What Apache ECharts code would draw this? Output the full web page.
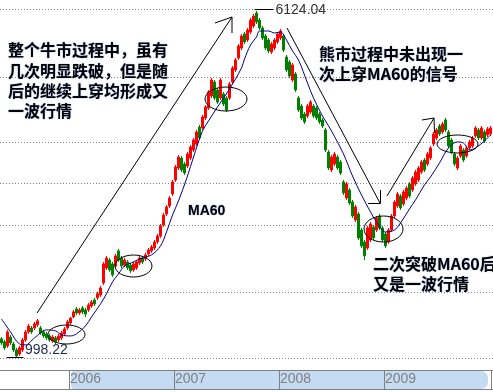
<!DOCTYPE html>
<html><head><meta charset="utf-8">
<script src="https://cdn.jsdelivr.net/npm/echarts@6/dist/echarts.min.js"></script>
<style>html,body{margin:0;padding:0;background:#fff}#c{width:493px;height:392px}</style>
</head><body><div id="c"></div>
<script>
// Candles: [open, close, low, high], one per ~1.5 weeks, grouped by year
const ohlc2005 = [
[1103,1080,1069,1114],[1086,1052,1041,1097],[1063,1144,1052,1156],[1114,1080,1069,1126],[1074,1041,1030,1086],
[1041,1009,998.22,1052],[1019,1052,1009,1063],[1041,1097,1030,1109],[1097,1144,1086,1156],[1144,1180,1132,1193],
[1168,1144,1132,1180],[1168,1193,1156,1205],[1187,1212,1174,1224],[1168,1138,1126,1180],[1144,1120,1109,1156],
[1132,1109,1097,1144],[1120,1097,1086,1132],[1091,1114,1080,1126],[1109,1086,1074,1120],[1097,1120,1086,1132],
[1109,1138,1097,1150],[1132,1162,1120,1174],[1168,1205,1156,1218]];
const ohlc2006 = [
[1199,1230,1187,1237],[1237,1270,1230,1283],[1290,1263,1250,1303],[1263,1283,1250,1297],[1297,1270,1256,1310],
[1283,1256,1237,1297],[1283,1317,1270,1331],[1310,1338,1297,1352],[1352,1324,1310,1367],[1367,1396,1352,1410],
[1388,1439,1374,1455],[1478,1632,1462,1649],[1598,1684,1582,1702],[1666,1582,1566,1684],[1632,1541,1525,1649],
[1615,1702,1598,1720],[1747,1666,1649,1765],[1684,1615,1598,1702],[1623,1666,1606,1684],[1649,1598,1582,1666],
[1623,1574,1557,1640],[1582,1632,1566,1649],[1598,1649,1582,1666],[1640,1684,1623,1702],[1684,1649,1632,1702],
[1675,1711,1657,1729],[1720,1756,1702,1774],[1747,1783,1729,1802],[1774,1831,1756,1850],[1831,1889,1812,1909],
[1889,1991,1869,2011],[2001,2108,1980,2130],[2119,2198,2097,2221],[2210,2304,2187,2328],[2352,2506,2328,2532]];
const ohlc2007 = [
[2532,2709,2506,2738],[2695,2854,2667,2885],[2840,2667,2639,2870],[2752,2625,2598,2781],[2723,2900,2695,2930],
[2840,3008,2810,3040],[2961,3120,2930,3153],[3055,3254,3024,3288],[3339,3153,3120,3375],[3322,3519,3288,3556],
[3500,3707,3464,3746],[3687,4010,3650,4052],[3927,4269,3886,4315],[4225,3886,3845,4269],[4052,3805,3765,4094],
[3886,4269,3845,4315],[3968,3765,3726,4010],[3886,3650,3612,3927],[3886,4181,3845,4225],[4225,4546,4181,4594],
[4499,4740,4452,4789],[4789,5099,4740,5153],[5046,5374,4994,5430],[5430,5207,5153,5487],[5262,5545,5207,5603],
[5487,5842,5430,5904],[5661,5966,5603,6029],[6060,5781,5721,6124.04],[5842,5603,5545,5904],[5603,5318,5262,5661],
[5374,5046,4994,5430],[5262,4968,4916,5318],[4942,5153,4891,5207],[5046,5262,4994,5318],[5207,5430,5153,5487]];
const ohlc2008 = [
[5318,5516,5262,5573],[5374,4994,4942,5430],[4814,4499,4452,4865],[4691,4360,4315,4740],[4269,4618,4225,4666],
[4406,4052,4010,4452],[3886,3650,3612,3927],[3726,3500,3464,3765],[3574,3428,3392,3612],[3537,3726,3500,3765],
[3612,3805,3574,3845],[3726,3537,3500,3765],[3687,3500,3464,3726],[3574,3428,3392,3612],[3464,3357,3322,3500],
[3288,2961,2930,3322],[2930,2695,2667,2961],[2667,2854,2639,2885],[2752,2900,2723,2930],[2854,2695,2667,2885],
[2781,2625,2598,2810],[2506,2365,2340,2532],[2304,2480,2280,2506],[2402,2244,2221,2428],[2256,2097,2075,2280],
[2054,2198,2033,2221],[2119,1869,1850,2142],[1949,1793,1774,1970],[1831,1702,1664,1850],[1774,1970,1756,1991],
[1850,2011,1831,2033],[1980,1869,1850,2001],[1949,2075,1929,2097],[2097,1970,1949,2119],[1970,1850,1831,1991]];
const ohlc2009 = [
[1909,1793,1774,1929],[1831,1949,1812,1970],[1949,2097,1929,2119],[2097,2256,2075,2280],[2210,2352,2187,2377],
[2328,2187,2164,2352],[2233,2377,2210,2402],[2304,2428,2280,2454],[2480,2328,2304,2506],[2402,2558,2377,2585],
[2480,2639,2454,2667],[2532,2695,2506,2723],[2639,2781,2612,2810],[2810,2667,2639,2840],[2752,2900,2723,2930],
[2840,2992,2810,3024],[3055,3220,3024,3254],[3153,3288,3120,3322],[3357,3220,3186,3392],[3254,3392,3220,3428],
[3464,3288,3254,3500],[3254,3024,2992,3288],[3120,2930,2900,3153],[2900,2752,2723,2930],[2695,2840,2667,2870],
[2870,3024,2840,3055],[2961,2810,2781,2992],[2870,2992,2840,3024],[2992,3088,2961,3120],[3024,3153,2992,3186],
[3186,3322,3153,3357],[3288,3153,3120,3322],[3153,3322,3120,3357],[3254,3104,3071,3288],[3203,3305,3170,3339],
[3220,3322,3186,3357]];
// MA60 readings: [candle index, value]
const ma60 = [[0,1224],[3,1144],[6,1074],[8,1069],[11,1109],[15,1156],[18,1150],[20,1126],[23,1120],[25,1132],
[28,1180],[30,1237],[33,1324],[35,1396],[37,1486],[39,1549],[41,1615],[44,1649],[46,1675],[50,1711],[53,1793],
[55,1929],[57,2108],[59,2268],[62,2585],[64,2854],[67,3271],[69,3446],[72,3707],[76,4073],[80,4546],[81,4765],
[83,5126],[85,5346],[86,5516],[89,5516],[91,5459],[93,5487],[95,5262],[97,4968],[99,4740],[102,4202],[104,3886],
[107,3537],[108,3446],[110,3271],[114,2900],[117,2585],[120,2340],[123,2142],[125,2033],[128,1929],[131,1949],
[133,2022],[136,2176],[138,2280],[141,2467],[143,2571],[146,2767],[149,2992],[152,3088],[154,3071],[156,2961],
[158,2992],[161,3104],[163,3203]];
const gridValues = [6188, 4337, 3088, 2492, 2001, 1410, 998];
const yearBlocks = [['2005', ohlc2005], ['2006', ohlc2006], ['2007', ohlc2007], ['2008', ohlc2008], ['2009', ohlc2009]];
const yearLabels = ['2006', '2007', '2008', '2009'];
const yMin = 998, yMax = 6188;
const note1 = ['整个牛市过程中，虽有', '几次明显跌破，但是随', '后的继续上穿均形成又', '一波行情'];
const note2 = ['熊市过程中未出现一', '次上穿MA60的信号'];
const note3 = ['二次突破MA60后', '又是一波行情'];
const maLabel = 'MA60';

const candles = [], cats = [], yearStart = {};
yearBlocks.forEach(([y, arr]) => { yearStart[y] = candles.length; arr.forEach((c, k) => { candles.push(c); cats.push(y + '-' + k); }); });

const chart = echarts.init(document.getElementById('c'));
chart.setOption({
  animation: false,
  grid: { left: 0, right: 1, top: 9, bottom: 34 },
  xAxis: { type: 'category', data: cats, boundaryGap: true, axisLine: { show: false }, axisTick: { show: false }, axisLabel: { show: false }, splitLine: { show: false } },
  yAxis: { type: 'log', min: yMin, max: yMax, axisLine: { show: false }, axisTick: { show: false }, axisLabel: { show: false }, splitLine: { show: false } },
  series: [
    { type: 'candlestick', data: candles, barWidth: 2, z: 2,
      itemStyle: { color: '#ff0000', color0: '#008000', borderColor: '#ff0000', borderColor0: '#008000', borderWidth: 1 } },
    { type: 'line', data: ma60, smooth: 0.35, symbol: 'none', z: 3, lineStyle: { color: '#000080', width: 1 } }
  ]
});

const P = (i, v) => chart.convertToPixel({ xAxisIndex: 0, yAxisIndex: 0 }, [i, v]);
const Y = v => chart.convertToPixel({ yAxisIndex: 0 }, v);
const band = P(1, 1000)[0] - P(0, 1000)[0];
const W = 493;
const g = [];
// dotted grid lines
gridValues.forEach(v => {
  const y = Math.round(Y(v)) + 0.5;
  g.push({ type: 'line', z: 0, shape: { x1: 0, y1: y, x2: W, y2: y }, style: { stroke: '#888', lineWidth: 1, lineDash: [1, 2] } });
});
// peak & trough labels
let hi = 0, lo = 0;
candles.forEach((c, i) => { if (c[3] > candles[hi][3]) hi = i; if (c[2] < candles[lo][2]) lo = i; });
const ph = P(hi, candles[hi][3]), pl = P(lo, candles[lo][2]);
g.push({ type: 'line', z: 10, shape: { x1: ph[0] - 2, y1: Math.round(ph[1]) - 1.5, x2: ph[0] + 17, y2: Math.round(ph[1]) - 1.5 }, style: { stroke: '#000', lineWidth: 1 } });
g.push({ type: 'text', z: 10, style: { text: candles[hi][3].toFixed(2), x: ph[0] + 19, y: ph[1] - 1, fill: '#333', fontSize: 14, fontFamily: 'Liberation Sans, Arial', verticalAlign: 'middle' } });
g.push({ type: 'line', z: 10, shape: { x1: pl[0] - 10, y1: Math.round(pl[1]) - 0.5, x2: pl[0] + 7, y2: Math.round(pl[1]) - 0.5 }, style: { stroke: '#000', lineWidth: 1 } });
g.push({ type: 'text', z: 10, style: { text: candles[lo][2].toFixed(2), x: pl[0] + 8.5, y: pl[1] - 8, fill: '#1c2a48', fontSize: 14, fontFamily: 'Liberation Sans, Arial', verticalAlign: 'middle' } });
// annotation texts
const cjk = { fontSize: 16, fontWeight: 'bold', fontFamily: 'Noto Sans CJK SC', fill: '#000', verticalAlign: 'middle', textShadowColor: 'rgba(0,60,200,0.45)', textShadowBlur: 1.5 };
const addLines = (lines, x, ys) => lines.forEach((t, k) => g.push({ type: 'text', z: 12, style: Object.assign({ text: t, x: x, y: ys[k] }, cjk) }));
addLines(note1, 8, [50, 71, 91, 111]);
addLines(note2, 319, [53.5, 73.5]);
addLines(note3, 373, [264, 284]);
g.push({ type: 'text', z: 12, style: { text: maLabel, x: 188, y: 211, fontSize: 14, fontWeight: 'bold', fontFamily: 'Liberation Sans, Arial', fill: '#000', verticalAlign: 'middle', textShadowColor: 'rgba(0,60,200,0.45)', textShadowBlur: 1.5 } });
// ellipses
[[66.5, 334.5, 18.5, 9.5], [133.5, 266, 18.5, 11], [226, 99, 21, 12], [383.5, 229, 19.5, 13], [457.5, 144, 20.5, 9]].forEach(e => {
  g.push({ type: 'ellipse', z: 11, shape: { cx: e[0], cy: e[1], rx: e[2], ry: e[3] }, style: { fill: null, stroke: '#000', lineWidth: 1 } });
});
// arrows
[[[37, 313], [232, 17]], [[215, 23], [232, 17], [232, 33]],
 [[287, 28], [380, 203]], [[368, 203.5], [380.5, 203.5], [380.5, 190]],
 [[387, 196], [434, 118]], [[422, 120], [434, 118], [434.5, 133]]].forEach(pts => {
  g.push({ type: 'polyline', z: 11, shape: { points: pts }, style: { fill: null, stroke: '#000', lineWidth: 1 } });
});
// bottom year bar
const barTop = 370.5, barBot = 389.5;
const xStart = Math.round(P(yearStart['2006'], 1000)[0] - band / 2);
const xEnd = Math.round(P(candles.length - 1, 1000)[0] + band / 2);
g.push({ type: 'rect', z: 1, shape: { x: xStart + 2, y: barTop + 0.5, width: xEnd - xStart - 6, height: barBot - barTop - 1, r: [3, 7, 7, 3] }, style: { fill: '#c5dbf3' } });
g.push({ type: 'line', z: 2, shape: { x1: 0, y1: barTop, x2: W, y2: barTop }, style: { stroke: '#808080', lineWidth: 1 } });
g.push({ type: 'line', z: 2, shape: { x1: 0, y1: barBot, x2: W, y2: barBot }, style: { stroke: '#808080', lineWidth: 1 } });
yearLabels.forEach(y => {
  const x = Math.round(P(yearStart[y], 1000)[0] - band / 2) + 0.5;
  g.push({ type: 'line', z: 2, shape: { x1: x, y1: barTop, x2: x, y2: barBot }, style: { stroke: '#808080', lineWidth: 1 } });
  g.push({ type: 'text', z: 3, style: { text: y, x: x + 0.5, y: 379, fill: '#808080', fontSize: 14, fontFamily: 'Liberation Sans, Arial', verticalAlign: 'middle' } });
});
g.push({ type: 'line', z: 2, shape: { x1: xEnd - 0.5, y1: barTop, x2: xEnd - 0.5, y2: barBot }, style: { stroke: '#808080', lineWidth: 1 } });
chart.setOption({ graphic: { elements: g } });
</script>
</body></html>
